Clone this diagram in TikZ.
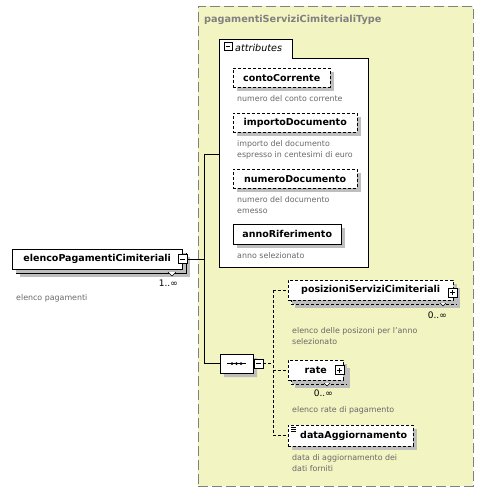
\documentclass[tikz,border=0pt]{standalone}
\usepackage{fontspec}
\setmainfont{DejaVu Sans}
\usetikzlibrary{shadows,shapes.misc}
\definecolor{bgyellow}{RGB}{242,244,194}
\definecolor{framegray}{RGB}{128,128,128}
\definecolor{titlegray}{RGB}{128,128,128}
\definecolor{descgray}{RGB}{105,105,105}
\definecolor{shadowgray}{RGB}{190,190,190}
\tikzset{
  x=1pt, y=-1pt,
  elem/.style={draw=black, fill=white, inner sep=0pt, anchor=north west,
    font=\bfseries\fontsize{9.5}{11}\selectfont,
    drop shadow={shadow xshift=4pt, shadow yshift=-4pt, fill=shadowgray, opacity=1}},
  optelem/.style={elem, dash pattern=on 3pt off 2pt},
  plainbox/.style={draw=black, fill=white, inner sep=0pt, anchor=north west},
  desc/.style={anchor=west, inner sep=0pt, text=descgray, font=\fontsize{7.9}{9}\selectfont},
  occ/.style={anchor=east, inner sep=0pt, font=\fontsize{9}{10}\selectfont},
  toggle/.style={draw=black, fill=white, minimum size=9pt, inner sep=0pt},
  minusbox/.style={toggle, path picture={\draw ([xshift=2pt]path picture bounding box.west) -- ([xshift=-2pt]path picture bounding box.east);}},
  plusbox/.style={toggle, path picture={\draw ([xshift=2pt]path picture bounding box.west) -- ([xshift=-2pt]path picture bounding box.east);
     \draw ([yshift=2pt]path picture bounding box.south) -- ([yshift=-2pt]path picture bounding box.north);}},
  conn/.style={draw=black, line width=0.8pt},
  dconn/.style={draw=black, line width=0.8pt, dash pattern=on 3pt off 2pt},
}
\begin{document}
\begin{tikzpicture}
\useasboundingbox (0,0) rectangle (484,493);
\fill[white] (0,0) rectangle (484,493);

% container type
\node[draw=framegray, line width=0.8pt, dash pattern=on 10pt off 4pt, fill=bgyellow,
      minimum width=275pt, minimum height=480pt, anchor=north west, inner sep=0pt] (type) at (198,6) {};
\node[anchor=west, inner sep=0pt, text=titlegray, font=\bfseries\fontsize{9.7}{11}\selectfont] (typetitle) at (204,20) {pagamentiServiziCimiterialiType};

% left element (multiple occurrence)
\node[elem, minimum width=170pt, minimum height=20pt] (root2) at (16,253) {};
\node[elem, minimum width=170pt, minimum height=20pt, drop shadow={opacity=0}] (root) at (12,249) {elencoPagamentiCimiteriali\hspace{4pt}};
\draw[fill=white] (168,272) -- (172,276) -- (176,272);
\node[minusbox] (m0) at (182.5,259) {};
\node[occ] (occ0) at (178,283) {1..∞};
\node[desc] (d0) at (16,298) {elenco pagamenti};

% attributes group
\node[plainbox, minimum width=149pt, minimum height=209pt] (attrbody) at (219,58) {};
\node[plainbox, minimum width=73pt, minimum height=19pt] (attrtab) at (219,39) {};
\draw[white, line width=1.2pt] ([xshift=0.6pt]attrtab.south west) -- ([xshift=-0.6pt]attrtab.south east);
\node[minusbox, minimum size=8pt] (mattr) at (228,46.5) {};
\node[anchor=west, inner sep=0pt, font=\itshape\fontsize{9.6}{11}\selectfont] (attrlabel) at (235,47.5) {attributes};

\node[optelem, minimum width=97pt, minimum height=19pt] (a1) at (233,68) {contoCorrente};
\node[desc] (a1d) at (237,99) {numero del conto corrente};
\node[optelem, minimum width=124pt, minimum height=19pt] (a2) at (233,113) {importoDocumento};
\node[desc] (a2d1) at (237,144) {importo del documento};
\node[desc] (a2d2) at (237,155) {espresso in centesimi di euro};
\node[optelem, minimum width=124pt, minimum height=19pt] (a3) at (233,169) {numeroDocumento};
\node[desc] (a3d1) at (237,200) {numero del documento};
\node[desc] (a3d2) at (237,211) {emesso};
\node[elem, minimum width=108pt, minimum height=20pt] (a4) at (233,224) {annoRiferimento};
\node[desc] (a4d) at (237,256) {anno selezionato};

% sequence compositor
\node[draw=black, fill=white, chamfered rectangle, chamfered rectangle xsep=7pt,
      minimum width=33pt, minimum height=19pt, inner sep=0pt,
      drop shadow={shadow xshift=4pt, shadow yshift=-4pt, fill=shadowgray, opacity=1}] (seq) at (236.5,363.5) {};
\draw[line width=0.9pt] ([xshift=7pt]seq.west) -- ([xshift=-7pt]seq.east);
\foreach \dx in {-4.5,0,4.5} \fill ([xshift=\dx pt]seq.center) circle (1.5pt);
\node[minusbox] (m1) at (258.5,363.5) {};

% solid connectors from root
\coordinate (bus) at (204,0);
\coordinate (attrin) at (219,154);
\draw[conn] (m0.east) -- (m0.east -| bus) -- (bus |- attrin) -- (attrin);
\draw[conn] (m0.east -| bus) -- (bus |- seq.west) -- (seq.west);

% children
\node[optelem, minimum width=165pt, minimum height=20pt] (c1b) at (291,284) {};
\node[optelem, minimum width=165pt, minimum height=20pt, drop shadow={opacity=0}] (c1) at (288,280) {posizioniServiziCimiteriali\hspace{12pt}};
\draw[fill=white] (440,303) -- (443,306) -- (446,303);
\node[plusbox] (p1) at (452.5,292.5) {};
\node[occ] (c1o) at (447,315) {0..∞};
\node[desc] (c1d1) at (292,331) {elenco delle posizoni per l'anno};
\node[desc] (c1d2) at (292,342) {selezionato};

\node[optelem, minimum width=55pt, minimum height=20pt] (c2b) at (291,364) {};
\node[optelem, minimum width=55pt, minimum height=20pt, drop shadow={opacity=0}] (c2) at (288,360) {rate\hspace{18pt}};
\draw[fill=white] (324,383) -- (327,386) -- (330,383);
\node[plusbox] (p2) at (339.5,370) {};
\node[occ] (c2o) at (333,393) {0..∞};
\node[desc] (c2d) at (292,410) {elenco rate di pagamento};

\node[optelem, minimum width=125pt, minimum height=21pt] (c3) at (288,425) {\hspace{6pt}dataAggiornamento};
\foreach \yy in {427.5,429.5,431.5} \draw[line width=0.6pt] (291,\yy) -- (296,\yy);
\node[desc] (c3d1) at (292,458) {data di aggiornamento dei};
\node[desc] (c3d2) at (292,469) {dati forniti};

% dashed connectors
\coordinate (dbus) at (273,0);
\draw[dconn] (m1.east) -- (m1.east -| dbus);
\draw[dconn] (dbus |- c1.west) -- (dbus |- c3.west);
\draw[dconn] (dbus |- c1.west) -- (c1.west);
\draw[dconn] (dbus |- c2.west) -- (c2.west);
\draw[dconn] (dbus |- c3.west) -- (c3.west);
\end{tikzpicture}
\end{document}
